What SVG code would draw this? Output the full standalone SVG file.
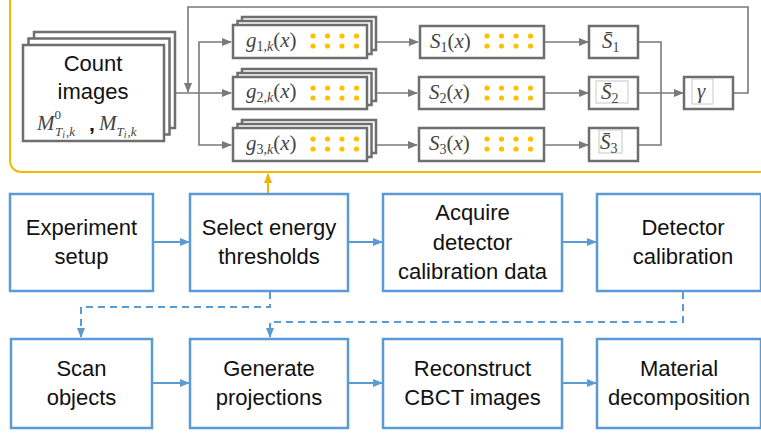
<svg xmlns="http://www.w3.org/2000/svg" width="761" height="433" viewBox="0 0 761 433">
<defs>
<style>
.gbox{fill:#fff;stroke:#6e6e6e;stroke-width:2.5}
.bbox{fill:#fff;stroke:#5b9bd5;stroke-width:2.5}
.inner{fill:none;stroke:#c8c8c8;stroke-width:1}
.gl{fill:none;stroke:#7a7a7a;stroke-width:1.6}
.bl{fill:none;stroke:#5b9bd5;stroke-width:2}
.bd{fill:none;stroke:#5b9bd5;stroke-width:2;stroke-dasharray:7,5}
.ol{fill:none;stroke:#f0b400;stroke-width:2}
.lbl{font-family:"Liberation Sans",Arial,sans-serif;font-size:22px;fill:#111;text-anchor:middle}
.math{font-family:"Liberation Serif","Times New Roman",serif;font-style:italic;font-size:21px;fill:#444}
.mr{font-style:normal}
.sub{font-size:14px}
.dot{fill:#ffc000}
</style>
<marker id="ag" markerWidth="10" markerHeight="8" refX="9" refY="4" orient="auto" markerUnits="userSpaceOnUse"><path d="M0,0 L10,4 L0,8 Z" fill="#7a7a7a"/></marker>
<marker id="ab" markerWidth="10" markerHeight="8" refX="9" refY="4" orient="auto" markerUnits="userSpaceOnUse"><path d="M0,0 L10,4 L0,8 Z" fill="#5b9bd5"/></marker>
<marker id="ao" markerWidth="10" markerHeight="8" refX="9" refY="4" orient="auto" markerUnits="userSpaceOnUse"><path d="M0,0 L10,4 L0,8 Z" fill="#f0b400"/></marker>
<g id="dots"><circle cx="0" cy="0" r="2.6"/><circle cx="14.5" cy="0" r="2.6"/><circle cx="29" cy="0" r="2.6"/><circle cx="43.5" cy="0" r="2.6"/><circle cx="0" cy="10" r="2.6"/><circle cx="14.5" cy="10" r="2.6"/><circle cx="29" cy="10" r="2.6"/><circle cx="43.5" cy="10" r="2.6"/></g>
</defs>
<rect width="761" height="433" fill="#fff"/>
<g id="container"><rect x="10" y="-20" width="760" height="192" rx="11" fill="none" stroke="#f5b800" stroke-width="2"/></g>

<g id="connectors">
<path class="gl" d="M164,93 H231" marker-end="url(#ag)"/>
<path class="gl" d="M199,93 V42 H231" marker-end="url(#ag)"/>
<path class="gl" d="M199,93 V145 H231" marker-end="url(#ag)"/>
<path class="gl" d="M733,93 H748 V7 H188 V92" marker-end="url(#ag)"/>
<path class="gl" d="M376,42 H418" marker-end="url(#ag)"/>
<path class="gl" d="M376,93 H417" marker-end="url(#ag)"/>
<path class="gl" d="M376,145 H417" marker-end="url(#ag)"/>
<path class="gl" d="M544,42 H588" marker-end="url(#ag)"/>
<path class="gl" d="M544,93 H588" marker-end="url(#ag)"/>
<path class="gl" d="M544,145 H588" marker-end="url(#ag)"/>
<path class="gl" d="M638,42 H661 V145 H638"/>
<path class="gl" d="M638,93 H683" marker-end="url(#ag)"/>
<path class="ol" d="M268,193 V174" marker-end="url(#ao)"/>
<path class="bl" d="M153,242 H189" marker-end="url(#ab)"/>
<path class="bl" d="M348,242 H382" marker-end="url(#ab)"/>
<path class="bl" d="M562,242 H596" marker-end="url(#ab)"/>
<path class="bl" d="M152,383 H189" marker-end="url(#ab)"/>
<path class="bl" d="M348,383 H382" marker-end="url(#ab)"/>
<path class="bl" d="M562,383 H596" marker-end="url(#ab)"/>
<path class="bd" d="M270,292 V307 H81 V337" marker-end="url(#ab)"/>
<path class="bd" d="M683,292 V322 H270 V337" marker-end="url(#ab)"/>
</g>

<g id="count-images">
<rect class="gbox" x="34" y="32" width="141" height="96"/>
<rect class="gbox" x="28.5" y="38.5" width="141" height="96"/>
<rect class="gbox" x="23" y="45" width="141" height="96"/>
<text class="lbl" x="93" y="71" font-size="24">Count</text>
<text class="lbl" x="93" y="99" font-size="24">images</text>
<text class="math" x="37" y="130">M<tspan class="mr" font-size="13" dy="-11">0</tspan><tspan font-size="13" dx="-6" dy="17">T<tspan font-size="10" dy="2">i</tspan><tspan dy="-2" dx="1">,k</tspan></tspan></text>
<text x="89" y="131" font-family="Liberation Sans,Arial,sans-serif" font-weight="bold" font-size="21" fill="#111">,</text>
<text class="math" x="99" y="130">M<tspan font-size="13" dy="6">T<tspan font-size="10" dy="2">i</tspan><tspan dy="-2" dx="1">,k</tspan></tspan></text>
</g>

<g id="g1">
<rect class="gbox" x="242" y="17" width="134" height="33"/>
<rect class="gbox" x="237.5" y="21" width="134" height="33"/>
<rect class="gbox" x="233" y="25" width="134" height="33"/>
<text class="math" x="246" y="47">g<tspan class="mr sub" dy="4">1,</tspan><tspan class="sub">k</tspan><tspan class="mr" dy="-4">(</tspan>x<tspan class="mr">)</tspan></text>
<use href="#dots" x="313" y="36" class="dot"/>
</g>
<g id="g2">
<rect class="gbox" x="242" y="69" width="134" height="32"/>
<rect class="gbox" x="237.5" y="73" width="134" height="32"/>
<rect class="gbox" x="233" y="77" width="134" height="32"/>
<text class="math" x="246" y="98">g<tspan class="mr sub" dy="4">2,</tspan><tspan class="sub">k</tspan><tspan class="mr" dy="-4">(</tspan>x<tspan class="mr">)</tspan></text>
<use href="#dots" x="313" y="88" class="dot"/>
</g>
<g id="g3">
<rect class="gbox" x="242" y="120" width="134" height="33"/>
<rect class="gbox" x="237.5" y="124" width="134" height="33"/>
<rect class="gbox" x="233" y="128" width="134" height="33"/>
<text class="math" x="246" y="150">g<tspan class="mr sub" dy="4">3,</tspan><tspan class="sub">k</tspan><tspan class="mr" dy="-4">(</tspan>x<tspan class="mr">)</tspan></text>
<use href="#dots" x="313" y="139" class="dot"/>
</g>

<g id="S1">
<rect class="gbox" x="420" y="26" width="124" height="32"/>
<text class="math" x="430" y="48">S<tspan class="mr sub" dy="4">1</tspan><tspan class="mr" dy="-4">(</tspan>x<tspan class="mr">)</tspan></text>
<use href="#dots" x="487" y="36" class="dot"/>
</g>
<g id="S2">
<rect class="gbox" x="419" y="77" width="125" height="32"/>
<text class="math" x="429" y="99">S<tspan class="mr sub" dy="4">2</tspan><tspan class="mr" dy="-4">(</tspan>x<tspan class="mr">)</tspan></text>
<use href="#dots" x="487" y="88" class="dot"/>
</g>
<g id="S3">
<rect class="gbox" x="419" y="128" width="125" height="33"/>
<text class="math" x="429" y="150">S<tspan class="mr sub" dy="4">3</tspan><tspan class="mr" dy="-4">(</tspan>x<tspan class="mr">)</tspan></text>
<use href="#dots" x="487" y="139" class="dot"/>
</g>

<g id="Sbar1">
<rect class="gbox" x="589" y="26" width="49" height="32"/>
<text class="math" x="602" y="48">S̄<tspan class="mr sub" dy="4">1</tspan></text>
</g>
<g id="Sbar2">
<rect class="gbox" x="589" y="77" width="49" height="32"/>
<rect class="inner" x="596" y="81" width="32" height="22"/>
<text class="math" x="601" y="99">S̄<tspan class="mr sub" dy="4">2</tspan></text>
</g>
<g id="Sbar3">
<rect class="gbox" x="589" y="128" width="49" height="33"/>
<rect class="inner" x="599" y="130" width="23" height="23"/>
<text class="math" x="600" y="149">S̄<tspan class="mr sub" dy="4">3</tspan></text>
</g>
<g id="gamma">
<rect class="gbox" x="684" y="77" width="49" height="32"/>
<rect class="inner" x="692" y="79" width="21" height="25"/>
<text class="math" x="697" y="98">γ</text>
</g>

<g id="experiment-setup">
<rect class="bbox" x="10" y="194" width="143" height="97"/>
<text class="lbl" x="81.5" y="235">Experiment</text>
<text class="lbl" x="81.5" y="264">setup</text>
</g>
<g id="select-energy">
<rect class="bbox" x="190" y="194" width="158" height="97"/>
<text class="lbl" x="269" y="235">Select energy</text>
<text class="lbl" x="269" y="264">thresholds</text>
</g>
<g id="acquire">
<rect class="bbox" x="383" y="194" width="179" height="97"/>
<text class="lbl" x="472.5" y="220">Acquire</text>
<text class="lbl" x="472.5" y="250">detector</text>
<text class="lbl" x="472.5" y="279">calibration data</text>
</g>
<g id="detector-calibration">
<rect class="bbox" x="597" y="194" width="164" height="97"/>
<text class="lbl" x="683" y="235">Detector</text>
<text class="lbl" x="683" y="264">calibration</text>
</g>
<g id="scan-objects">
<rect class="bbox" x="11" y="339" width="141" height="89"/>
<text class="lbl" x="81.5" y="376">Scan</text>
<text class="lbl" x="81.5" y="405">objects</text>
</g>
<g id="generate-projections">
<rect class="bbox" x="190" y="339" width="158" height="89"/>
<text class="lbl" x="269" y="376">Generate</text>
<text class="lbl" x="269" y="405">projections</text>
</g>
<g id="reconstruct">
<rect class="bbox" x="383" y="339" width="179" height="89"/>
<text class="lbl" x="472.5" y="376">Reconstruct</text>
<text class="lbl" x="472.5" y="405">CBCT images</text>
</g>
<g id="material">
<rect class="bbox" x="597" y="339" width="164" height="89"/>
<text class="lbl" x="679" y="376">Material</text>
<text class="lbl" x="679" y="405">decomposition</text>
</g>
</svg>
